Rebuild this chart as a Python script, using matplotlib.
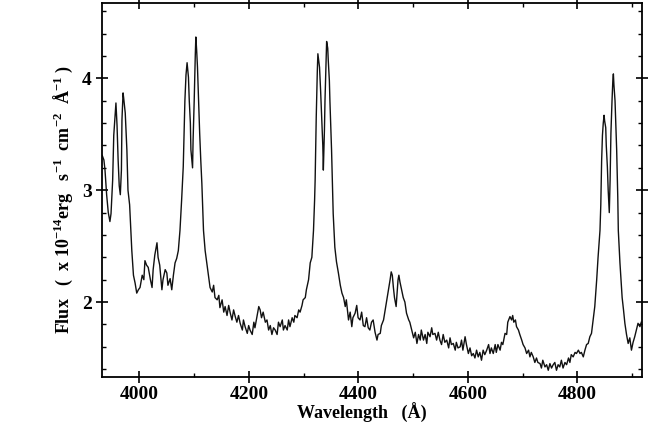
import matplotlib
matplotlib.use("Agg")
import matplotlib.pyplot as plt
from matplotlib.ticker import MultipleLocator

plt.rcParams['font.family'] = ['Liberation Serif', 'DejaVu Serif']
plt.rcParams['font.weight'] = 'bold'
plt.rcParams['mathtext.fontset'] = 'custom'
plt.rcParams['mathtext.rm'] = 'Liberation Serif:bold'
plt.rcParams['mathtext.it'] = 'Liberation Serif:bold'
plt.rcParams['mathtext.bf'] = 'Liberation Serif:bold'
plt.rcParams['mathtext.default'] = 'regular'

# Wavelength (Angstrom)
wavelength = [
    3932, 3935, 3937, 3940, 3943, 3946, 3948, 3951, 3953, 3956, 3957, 3959, 3961, 3963, 3965,
    3967, 3968, 3970, 3971, 3974, 3977, 3979, 3982, 3986, 3989, 3992, 3995, 3998, 4001, 4005,
    4008, 4010, 4013, 4016, 4020, 4023, 4025, 4028, 4032, 4034, 4037, 4041, 4043, 4047, 4050,
    4052, 4056, 4059, 4062, 4065, 4068, 4071, 4074, 4077, 4080, 4083, 4085, 4087, 4089.5, 4091,
    4093, 4094, 4097, 4098, 4100, 4102, 4103, 4104.5, 4106, 4108, 4110, 4112, 4114, 4117, 4120,
    4123, 4126, 4129, 4133, 4135.5, 4138, 4142, 4145, 4147, 4151, 4154, 4156.5, 4160, 4163, 4166,
    4169, 4172, 4175, 4178, 4181, 4184, 4188, 4190, 4193, 4197, 4199.5, 4202, 4206, 4209, 4211,
    4215, 4218, 4220.5, 4223, 4226, 4230, 4233, 4236, 4239, 4242, 4245, 4248, 4251.5, 4254, 4257,
    4261, 4263, 4266, 4270, 4272.5, 4275, 4279, 4282, 4284, 4288, 4291, 4293.5, 4297, 4299, 4303,
    4305, 4309, 4312, 4315, 4318, 4320, 4321, 4323, 4325, 4326, 4327, 4329, 4331, 4333, 4335,
    4336, 4338, 4339, 4341, 4342, 4344, 4345, 4347, 4348, 4351, 4353, 4354, 4357, 4360, 4363.5,
    4367, 4370, 4373, 4376, 4378, 4382, 4385, 4388, 4390, 4394, 4397, 4399.5, 4403, 4406, 4409,
    4412, 4415, 4418, 4421, 4424, 4427, 4430.5, 4434, 4436, 4440, 4442, 4446, 4449, 4452, 4455,
    4458, 4460, 4462, 4464, 4466, 4469, 4471, 4472.5, 4474, 4476, 4479, 4482, 4485, 4488, 4492,
    4494, 4497.5, 4501, 4504, 4507, 4510, 4513, 4515, 4519, 4522, 4525, 4527, 4531, 4534, 4536,
    4540, 4543, 4546, 4549, 4552, 4555, 4558, 4561.5, 4565, 4567.5, 4570, 4573.5, 4577, 4579, 4582,
    4586, 4588.5, 4591, 4595, 4597.5, 4601, 4604, 4607, 4610, 4613, 4616, 4619, 4622, 4625, 4628,
    4631, 4634.5, 4638, 4640.5, 4643, 4646.5, 4650, 4652, 4655, 4659, 4661.5, 4664, 4668, 4671, 4673,
    4677, 4680, 4682, 4684, 4687, 4689, 4692.5, 4695, 4698.5, 4701, 4704.5, 4707.5, 4711, 4713.5, 4716,
    4719.5, 4722.5, 4725.5, 4728, 4732, 4734.5, 4737, 4741, 4744, 4747, 4750, 4753, 4756, 4759, 4762,
    4765, 4768, 4771, 4774, 4777.5, 4780.5, 4784, 4786.5, 4789, 4792.5, 4796, 4798.5, 4802, 4805, 4807.5,
    4811, 4814, 4817, 4820, 4823, 4826, 4829, 4832, 4835.5, 4838, 4841.5, 4843, 4844.5, 4846, 4847.5,
    4849, 4850, 4852, 4853, 4855, 4856.5, 4858.5, 4860, 4861.5, 4863.5, 4865, 4866, 4867, 4869, 4870.5,
    4872, 4874, 4875, 4878, 4880, 4882, 4884.5, 4887, 4890, 4893, 4896, 4899, 4902, 4905, 4908,
    4911, 4914.5, 4917,
]

# Flux (x 1e-14 erg s^-1 cm^-2 A^-1)
flux = [
    3.31, 3.27, 3.18, 2.96, 2.80, 2.72, 2.79, 3.09, 3.49, 3.71, 3.78, 3.58, 3.27, 3.04, 2.96,
    3.18, 3.63, 3.87, 3.83, 3.69, 3.36, 3.00, 2.87, 2.46, 2.24, 2.17, 2.08, 2.11, 2.13, 2.24,
    2.20, 2.37, 2.33, 2.31, 2.20, 2.13, 2.29, 2.42, 2.53, 2.40, 2.33, 2.11, 2.20, 2.29, 2.26,
    2.15, 2.21, 2.11, 2.24, 2.35, 2.39, 2.46, 2.64, 2.91, 3.21, 3.80, 4.03, 4.14, 4.01, 3.80,
    3.60, 3.36, 3.20, 3.45, 3.80, 4.21, 4.37, 4.25, 4.10, 3.80, 3.51, 3.27, 3.06, 2.64, 2.46,
    2.35, 2.24, 2.13, 2.09, 2.15, 2.04, 2.02, 2.06, 1.95, 2.02, 1.91, 1.96, 1.88, 1.97, 1.90,
    1.84, 1.93, 1.87, 1.82, 1.88, 1.81, 1.75, 1.84, 1.78, 1.72, 1.79, 1.75, 1.71, 1.82, 1.77,
    1.88, 1.96, 1.93, 1.86, 1.91, 1.82, 1.84, 1.75, 1.79, 1.71, 1.77, 1.75, 1.71, 1.82, 1.78,
    1.84, 1.75, 1.79, 1.75, 1.84, 1.78, 1.86, 1.82, 1.88, 1.86, 1.93, 1.91, 1.97, 2.02, 2.04,
    2.11, 2.20, 2.35, 2.40, 2.64, 2.91, 3.09, 3.65, 4.07, 4.22, 4.18, 4.10, 3.89, 3.65, 3.40,
    3.18, 3.54, 3.80, 4.16, 4.33, 4.27, 4.16, 3.98, 3.80, 3.36, 2.97, 2.79, 2.49, 2.36, 2.26,
    2.15, 2.08, 2.04, 1.96, 2.02, 1.84, 1.91, 1.78, 1.86, 1.90, 1.97, 1.86, 1.84, 1.91, 1.79,
    1.78, 1.86, 1.77, 1.75, 1.82, 1.84, 1.73, 1.66, 1.71, 1.72, 1.79, 1.84, 1.93, 2.02, 2.11,
    2.20, 2.27, 2.24, 2.13, 2.04, 1.96, 2.10, 2.20, 2.24, 2.18, 2.11, 2.04, 2.00, 1.90, 1.84,
    1.82, 1.75, 1.68, 1.73, 1.63, 1.71, 1.66, 1.75, 1.66, 1.71, 1.63, 1.73, 1.69, 1.77, 1.71,
    1.72, 1.66, 1.73, 1.66, 1.62, 1.71, 1.64, 1.66, 1.59, 1.68, 1.62, 1.63, 1.57, 1.64, 1.59,
    1.60, 1.66, 1.57, 1.69, 1.62, 1.54, 1.59, 1.52, 1.54, 1.50, 1.57, 1.51, 1.55, 1.48, 1.57,
    1.53, 1.57, 1.62, 1.54, 1.59, 1.54, 1.62, 1.55, 1.62, 1.57, 1.64, 1.62, 1.72, 1.71, 1.82,
    1.87, 1.84, 1.88, 1.82, 1.84, 1.78, 1.75, 1.71, 1.66, 1.62, 1.59, 1.54, 1.57, 1.51, 1.55,
    1.51, 1.46, 1.50, 1.46, 1.45, 1.41, 1.48, 1.42, 1.44, 1.39, 1.45, 1.41, 1.44, 1.46, 1.39,
    1.44, 1.42, 1.48, 1.41, 1.46, 1.44, 1.50, 1.46, 1.53, 1.51, 1.55, 1.54, 1.57, 1.54, 1.55,
    1.51, 1.57, 1.62, 1.63, 1.69, 1.72, 1.84, 1.96, 2.20, 2.40, 2.64, 2.87, 3.26, 3.49, 3.60,
    3.67, 3.62, 3.56, 3.40, 3.21, 3.00, 2.80, 3.09, 3.51, 3.80, 3.98, 4.04, 3.94, 3.80, 3.58,
    3.36, 2.94, 2.64, 2.35, 2.20, 2.04, 1.93, 1.81, 1.71, 1.63, 1.68, 1.57, 1.64, 1.69, 1.75,
    1.81, 1.78, 1.82,
]

x_ticks = [4000, 4200, 4400, 4600, 4800]
y_ticks = [2, 3, 4]

fig = plt.figure(figsize=(6.52, 4.29), dpi=100)
ax = fig.add_axes([0.156, 0.122, 0.828, 0.870])
ax.plot(wavelength, flux, color='#111111', linewidth=1.0)

ax.set_xlim(3931, 4917.5)
ax.set_ylim(1.333, 4.67)
ax.set_xticks(x_ticks)
ax.set_yticks(y_ticks)
ax.xaxis.set_minor_locator(MultipleLocator(100))
ax.yaxis.set_minor_locator(MultipleLocator(0.2))
ax.tick_params(which='major', direction='inout', length=8, width=1.2,
               top=True, right=True, labelsize=14, pad=3)
ax.tick_params(which='minor', direction='in', length=3, width=1.0,
               top=True, right=True)
for lab in ax.get_xticklabels() + ax.get_yticklabels():
    lab.set_fontweight('bold')
for sp in ax.spines.values():
    sp.set_linewidth(1.3)

fig.text(362 / 652, 1 - 413 / 429, 'Wavelength   (Å)', fontsize=13,
         fontweight='bold', ha='center', va='center')
fig.text(63 / 652, 1 - 200 / 429,
         r'Flux   (  x 10$^{-14}$erg   s$^{-1}$  cm$^{-2}$  Å$^{-1}$ )',
         fontsize=13, fontweight='bold', ha='center', va='center', rotation=90)

fig.savefig('out.png', dpi=100)
